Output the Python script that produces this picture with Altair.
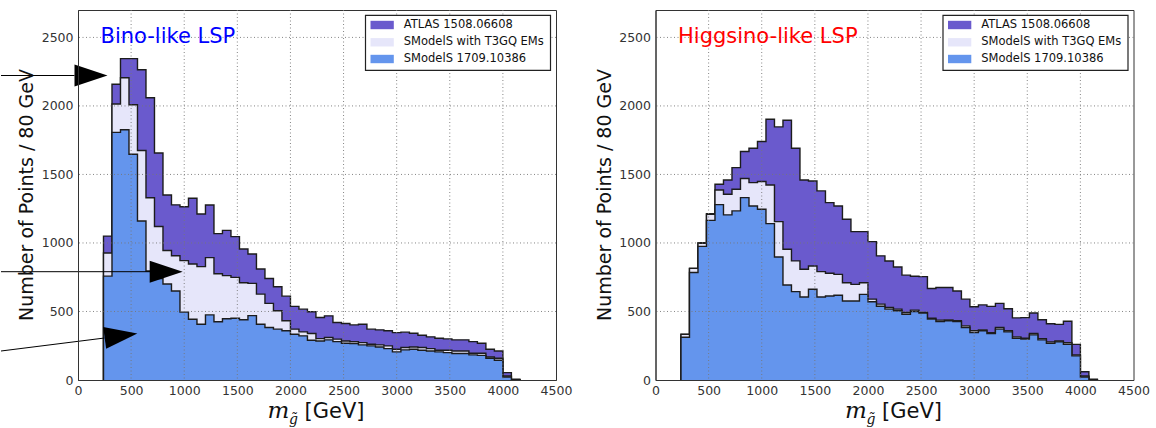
import altair as alt
import pandas as pd

# ---------------- data ----------------
BIN_START = 240
BIN_WIDTH = 80

x_ticks = [0, 500, 1000, 1500, 2000, 2500, 3000, 3500, 4000, 4500]
y_ticks = [0, 500, 1000, 1500, 2000, 2500]

series_labels = ["ATLAS 1508.06608", "SModelS with T3GQ EMs", "SModelS 1709.10386"]
series_colors = ["#6A5ACD", "#E6E6FA", "#6495ED"]

panel_titles = ["Bino-like LSP", "Higgsino-like LSP"]
panel_title_colors = ["#0000FF", "#FF0000"]

y_title = "Number of Points / 80 GeV"

# Bino-like LSP (counts per 80 GeV bin, bins start at 240 GeV)
bino_atlas = [1050, 2158, 2345, 2345, 2264, 2060, 1656, 1350, 1278, 1264,
              1326, 1211, 1277, 1068, 1092, 1046, 956, 919, 810, 741,
              680, 612, 537, 517, 498, 456, 468, 420, 412, 402,
              407, 371, 366, 359, 346, 349, 341, 327, 315, 305,
              300, 293, 293, 280, 268, 224, 212, 54, 5]
bino_t3gq = [927, 2014, 2206, 2009, 1675, 1330, 1120, 945, 907, 871,
             846, 827, 893, 775, 762, 749, 710, 705, 627, 559,
             505, 432, 371, 351, 339, 302, 310, 298, 285, 280,
             273, 261, 256, 249, 224, 237, 241, 237, 229, 217,
             217, 212, 212, 195, 195, 168, 159, 29, 2]
bino_smodels = [758, 1807, 1826, 1647, 1160, 795, 740, 700, 650, 495,
                443, 407, 475, 425, 447, 451, 440, 470, 407, 383,
                371, 359, 334, 322, 290, 285, 293, 280, 268, 266,
                256, 249, 241, 229, 205, 220, 224, 217, 212, 205,
                200, 193, 193, 183, 180, 159, 144, 22, 2]

# Higgsino-like LSP
higgsino_atlas = [335, 813, 1002, 1213, 1428, 1460, 1550, 1667, 1691, 1740,
                  1903, 1847, 1895, 1691, 1460, 1452, 1380, 1294, 1270, 1173,
                  1083, 1083, 1010, 906, 868, 825, 765, 757, 754, 668,
                  675, 675, 650, 590, 534, 548, 537, 559, 520, 453,
                  455, 489, 440, 411, 406, 429, 260, 60, 5]
higgsino_t3gq = [333, 815, 997, 1209, 1387, 1355, 1392, 1470, 1440, 1448,
                 1423, 1156, 954, 869, 808, 832, 791, 779, 771, 710,
                 698, 710, 590, 554, 529, 517, 493, 510, 493, 451,
                 437, 439, 432, 395, 359, 366, 346, 383, 359, 315,
                 305, 339, 302, 278, 285, 273, 183, 29, 2]
higgsino_smodels = [312, 785, 975, 1165, 1280, 1205, 1234, 1331, 1270, 1246,
                    1141, 898, 693, 645, 606, 662, 606, 613, 618, 577,
                    577, 625, 571, 538, 517, 505, 480, 500, 488, 444,
                    427, 432, 427, 383, 346, 359, 339, 371, 351, 305,
                    298, 329, 293, 268, 278, 261, 176, 22, 2]

# ---------------- layout / style ----------------
W, H = 478, 370
FONT = "DejaVu Sans"
xs = alt.Scale(domain=[0, 4500], nice=False, zero=False)
ys = alt.Scale(domain=[0, 2700], nice=False)

x_axis = alt.Axis(values=x_ticks, format="d", title=None, grid=False, ticks=False,
                  labelPadding=4, labelFlush=False, labelFont=FONT,
                  labelFontSize=12.5, labelColor="#333", domain=True,
                  domainColor="#333", domainWidth=1, zindex=1)
y_axis = alt.Axis(values=y_ticks, format="d", title=y_title, grid=False, ticks=False,
                  labelPadding=5, labelFlush=False, labelFont=FONT,
                  labelFontSize=12.5, labelColor="#333", domain=True,
                  domainColor="#333", domainWidth=1, zindex=1,
                  titleFont=FONT, titleFontSize=19, titleFontWeight="normal",
                  titleColor="#111", titleX=-51.5, titleY=184.5,
                  titleBaseline="middle")

X_ENC = alt.X("m:Q", scale=xs, axis=x_axis)
Y_ENC = alt.Y("n:Q", scale=ys, axis=y_axis, stack=None)

ONE = pd.DataFrame({"k": [0]})


def hist_layers(values, color):
    edges = [BIN_START + BIN_WIDTH * i for i in range(len(values) + 1)]
    area_df = pd.DataFrame({"m": edges, "n": list(values) + [0]})
    line_df = pd.DataFrame({"m": [edges[0]] + edges,
                            "n": [0] + list(values) + [0],
                            "i": list(range(len(values) + 2))})
    area = alt.Chart(area_df).mark_area(
        interpolate="step-after", color=color, opacity=1
    ).encode(x=X_ENC, y=Y_ENC)
    line = alt.Chart(line_df).mark_line(
        interpolate="step-after", color="#1c1c1c", strokeWidth=1.4
    ).encode(x=X_ENC, y=Y_ENC, order=alt.Order("i:Q"))
    return [area, line]


def grid_layers():
    gx = alt.Chart(pd.DataFrame({"m": x_ticks[1:-1]})).mark_rule(
        color="#777777", strokeWidth=0.9, strokeDash=[1, 2.5]
    ).encode(x=X_ENC)
    gy = alt.Chart(pd.DataFrame({"n": y_ticks[1:]})).mark_rule(
        color="#777777", strokeWidth=0.9, strokeDash=[1, 2.5]
    ).encode(y=Y_ENC)
    return [gx, gy]


def legend_layers():
    out = [alt.Chart(ONE).mark_rect(fill="white", stroke="#222", strokeWidth=1.2).encode(
        x=alt.value(287.5), x2=alt.value(472.5), y=alt.value(5.3), y2=alt.value(60.3))]
    row_y = [15, 32.3, 49]
    for lab, col, ry in zip(series_labels, series_colors, row_y):
        out.append(alt.Chart(ONE).mark_rect(fill=col).encode(
            x=alt.value(292.5), x2=alt.value(315.8),
            y=alt.value(ry - 4.2), y2=alt.value(ry + 4.2)))
        out.append(alt.Chart(ONE).mark_text(
            align="left", baseline="middle", font=FONT, fontSize=11.5, color="#111"
        ).encode(x=alt.value(325.8), y=alt.value(ry), text=alt.value(lab)))
    return out


def title_layers(title, color):
    t = alt.Chart(ONE).mark_text(
        align="left", baseline="middle", font=FONT, fontSize=21, color=color
    ).encode(x=alt.value(22.5), y=alt.value(26.7), text=alt.value(title))
    m = alt.Chart(ONE).mark_text(
        align="left", baseline="alphabetic", font="DejaVu Serif", fontStyle="italic",
        fontSize=23, color="#111"
    ).encode(x=alt.value(189.5), y=alt.value(408), text=alt.value("m"))
    g = alt.Chart(ONE).mark_text(
        align="left", baseline="alphabetic", font="DejaVu Serif", fontStyle="italic",
        fontSize=14, color="#111"
    ).encode(x=alt.value(211), y=alt.value(414), text=alt.value("g\u0303"))
    gev = alt.Chart(ONE).mark_text(
        align="left", baseline="alphabetic", font=FONT, fontSize=21, color="#111"
    ).encode(x=alt.value(226.5), y=alt.value(408), text=alt.value("[GeV]"))
    return [t, m, g, gev]


HEAD = "M -1 -0.667 L 1 0 L -1 0.667 Z"


def arrow_layers():
    out = []
    # (line start x, y), (line end x, y), head centre (x, y), head angle
    arrows = [((-77, 65.5), (-3.5, 65.5), (13, 65.5), 0),
              ((-77, 261.7), (72.5, 261.7), (88.2, 261.7), 0),
              ((-77, 341), (26.5, 328), (43, 325.7), 352.2)]
    for (x1, y1), (x2, y2), (hx, hy), ang in arrows:
        out.append(alt.Chart(ONE).mark_rule(color="black", strokeWidth=1).encode(
            x=alt.value(x1), y=alt.value(y1), x2=alt.value(x2), y2=alt.value(y2)))
        kw = dict(shape=HEAD, filled=True, size=1089, color="black", opacity=1)
        if ang:
            kw["angle"] = ang
        out.append(alt.Chart(ONE).mark_point(**kw).encode(
            x=alt.value(hx), y=alt.value(hy)))
    return out


def panel(series, title, color, arrows=False):
    layers = []
    for vals, col in zip(series, series_colors):
        layers += hist_layers(vals, col)
    layers += grid_layers()
    layers += legend_layers()
    layers += title_layers(title, color)
    if arrows:
        layers += arrow_layers()
    return alt.layer(*layers).properties(width=W, height=H)


left = panel([bino_atlas, bino_t3gq, bino_smodels], panel_titles[0], panel_title_colors[0], arrows=True)
right = panel([higgsino_atlas, higgsino_t3gq, higgsino_smodels], panel_titles[1], panel_title_colors[1])

chart = alt.hconcat(left, right, spacing=99.5, bounds="flush").properties(
    padding={"left": 0, "top": 9, "right": 0, "bottom": 0},
    background="white",
).configure_view(stroke="#333", strokeWidth=1)

chart.save("out.html", embed_options={"renderer": "svg", "actions": False})
